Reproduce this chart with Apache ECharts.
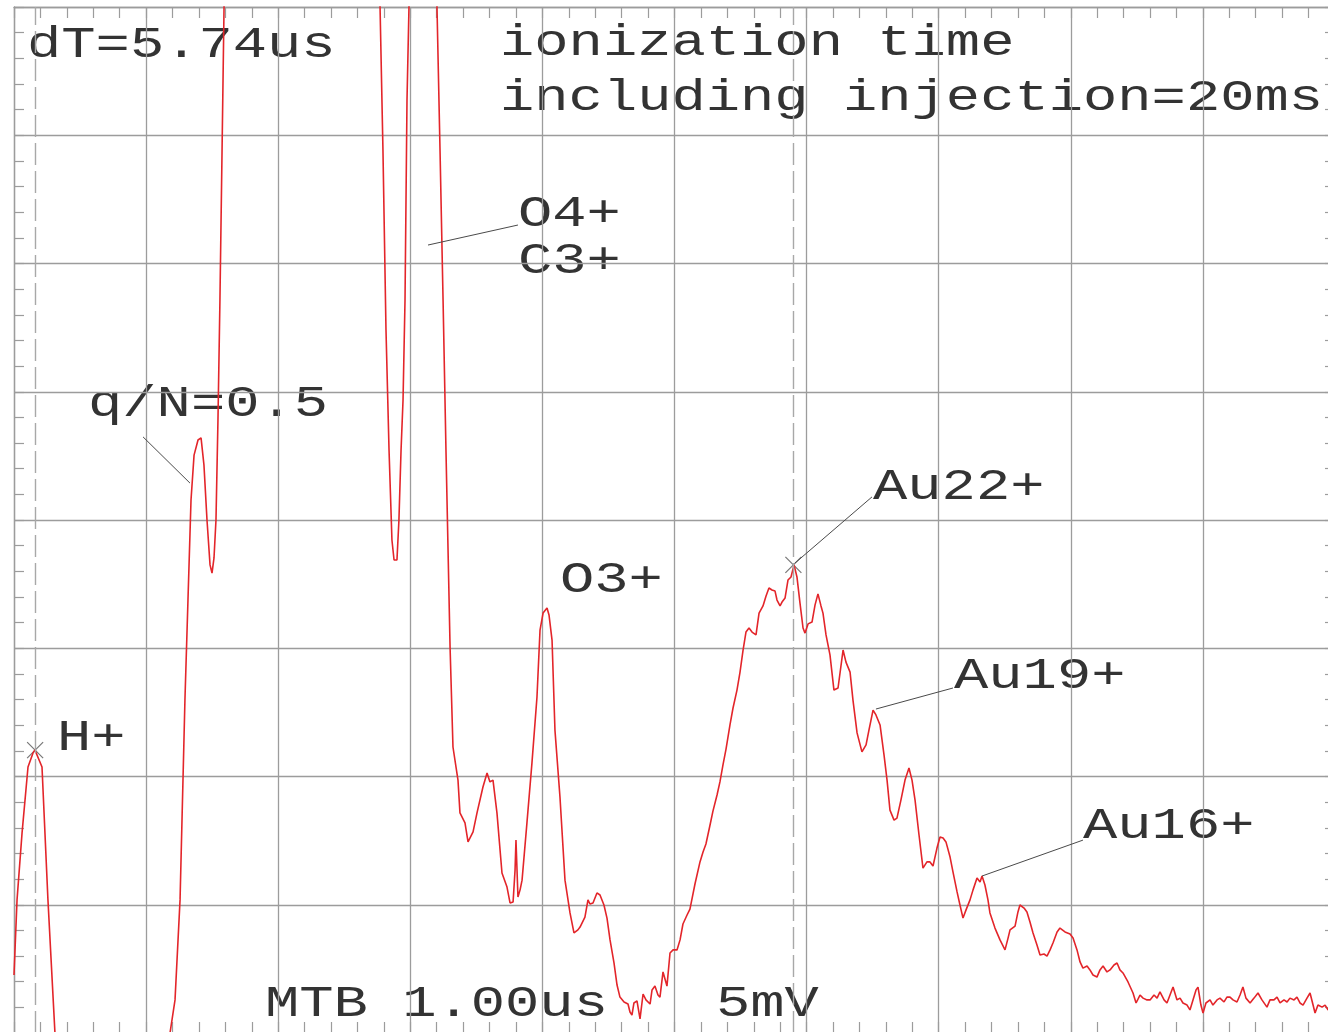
<!DOCTYPE html>
<html>
<head>
<meta charset="utf-8">
<title>Ion time-of-flight trace</title>
<script src="https://cdn.jsdelivr.net/npm/echarts@6/dist/echarts.min.js"></script>
<style>
  html, body { margin: 0; padding: 0; background: #ffffff; }
  #chart { width: 1328px; height: 1032px; }
</style>
</head>
<body>
<div id="chart"></div>
<script>
// Oscilloscope trace: time in microseconds, signal in millivolts (5 mV/div, 1 us/div)
const timeUs = [
  0.000, 0.023, 0.061, 0.106, 0.144, 0.159, 0.174, 0.212, 0.257, 0.310,
  0.348, 0.700, 1.100, 1.143, 1.181, 1.219, 1.257, 1.294, 1.317, 1.340,
  1.363, 1.393, 1.416, 1.438, 1.461, 1.484, 1.499, 1.514, 1.529, 1.544,
  1.559, 1.575, 1.590, 1.612, 2.000, 2.700, 2.748, 2.771, 2.793, 2.816,
  2.839, 2.861, 2.877, 2.899, 2.914, 2.930, 2.945, 2.960, 2.975, 2.990,
  3.005, 3.100, 3.187, 3.202, 3.225, 3.248, 3.270, 3.301, 3.323, 3.361,
  3.376, 3.414, 3.437, 3.475, 3.505, 3.550, 3.581, 3.603, 3.626, 3.656,
  3.694, 3.732, 3.755, 3.778, 3.793, 3.800, 3.815, 3.831, 3.846, 3.883,
  3.921, 3.959, 3.982, 4.005, 4.035, 4.050, 4.073, 4.095, 4.133, 4.171,
  4.209, 4.239, 4.269, 4.285, 4.322, 4.345, 4.360, 4.383, 4.413, 4.436,
  4.466, 4.489, 4.512, 4.542, 4.565, 4.587, 4.618, 4.648, 4.663, 4.678,
  4.693, 4.716, 4.739, 4.762, 4.784, 4.815, 4.830, 4.852, 4.875, 4.890,
  4.913, 4.943, 4.966, 4.989, 5.019, 5.042, 5.064, 5.095, 5.117, 5.155,
  5.193, 5.216, 5.238, 5.269, 5.291, 5.322, 5.344, 5.367, 5.390, 5.420,
  5.443, 5.473, 5.496, 5.519, 5.541, 5.564, 5.587, 5.617, 5.640, 5.670,
  5.693, 5.715, 5.738, 5.761, 5.776, 5.799, 5.814, 5.837, 5.859, 5.882,
  5.905, 5.927, 5.950, 5.973, 5.988, 6.011, 6.041, 6.064, 6.086, 6.109,
  6.124, 6.147, 6.177, 6.207, 6.238, 6.276, 6.298, 6.329, 6.351, 6.382,
  6.419, 6.450, 6.472, 6.503, 6.525, 6.556, 6.586, 6.609, 6.631, 6.662,
  6.684, 6.714, 6.745, 6.775, 6.798, 6.821, 6.851, 6.881, 6.911, 6.934,
  6.957, 6.987, 7.010, 7.033, 7.055, 7.086, 7.108, 7.139, 7.161, 7.184,
  7.207, 7.237, 7.260, 7.290, 7.313, 7.328, 7.350, 7.373, 7.388, 7.426,
  7.464, 7.502, 7.525, 7.540, 7.578, 7.600, 7.615, 7.646, 7.668, 7.691,
  7.714, 7.744, 7.767, 7.797, 7.820, 7.843, 7.865, 7.896, 7.918, 7.956,
  7.994, 8.017, 8.047, 8.070, 8.092, 8.123, 8.145, 8.168, 8.198, 8.221,
  8.244, 8.274, 8.297, 8.327, 8.350, 8.372, 8.395, 8.433, 8.471, 8.494,
  8.524, 8.547, 8.577, 8.600, 8.630, 8.653, 8.675, 8.706, 8.728, 8.751,
  8.774, 8.804, 8.827, 8.849, 8.880, 8.902, 8.925, 8.948, 8.963, 8.985,
  9.001, 9.023, 9.054, 9.076, 9.107, 9.129, 9.160, 9.182, 9.205, 9.228,
  9.258, 9.281, 9.303, 9.326, 9.357, 9.387, 9.417, 9.447, 9.485, 9.508,
  9.538, 9.561, 9.584, 9.614, 9.637, 9.659, 9.690, 9.712, 9.735, 9.758,
  9.788, 9.811, 9.834, 9.849, 9.871, 9.902, 9.925, 9.947, 10.000
];

const signalMv = [
  -17.74, -14.81, -12.20, -9.63, -9.08, -8.97, -9.01, -9.63, -14.81, -20.00,
  -24.56, -30.00, -30.00, -24.56, -20.00, -18.71, -14.81, -7.02, -3.12, 0.78,
  2.53, 3.12, 3.20, 2.14, 0.00, -1.75, -2.07, -1.48, 0.00, 3.90,
  8.58, 14.42, 20.00, 26.12, 30.00, 30.00, 26.12, 20.00, 14.42, 7.41,
  2.73, -0.78, -1.56, -1.56, 0.00, 2.73, 4.68, 8.58, 16.37, 20.00,
  24.95, 30.00, 24.95, 20.00, 14.42, 8.58, 2.73, -4.95, -8.85, -10.14,
  -11.42, -11.81, -12.55, -12.16, -11.42, -10.41, -9.86, -10.21, -10.14, -11.42,
  -13.76, -14.31, -14.93, -14.89, -13.65, -12.48, -14.70, -14.42, -14.04, -11.81,
  -9.47, -6.90, -4.29, -3.63, -3.43, -3.70, -4.68, -8.19, -10.80, -14.04,
  -15.32, -16.10, -15.98, -15.87, -15.48, -14.81, -14.97, -14.93, -14.54, -14.62,
  -15.01, -15.52, -16.37, -17.27, -18.13, -18.60, -18.79, -18.87, -19.18, -19.30,
  -18.83, -18.75, -19.45, -18.48, -18.71, -18.87, -18.32, -18.17, -18.52, -18.60,
  -17.62, -18.17, -16.88, -16.76, -16.76, -16.37, -15.75, -15.40, -15.17, -14.19,
  -13.33, -12.94, -12.63, -11.89, -11.35, -10.72, -10.21, -9.55, -8.93, -7.99,
  -7.33, -6.63, -5.93, -5.07, -4.37, -4.21, -4.37, -4.48, -3.63, -3.35,
  -2.96, -2.65, -2.73, -2.77, -3.12, -3.35, -3.20, -3.04, -2.34, -2.22,
  -1.75, -2.22, -3.24, -4.21, -4.41, -4.05, -3.98, -3.31, -2.88, -3.35,
  -3.63, -4.48, -5.26, -6.63, -6.55, -5.07, -5.54, -5.93, -7.02, -8.30,
  -9.04, -8.77, -8.19, -7.41, -7.60, -7.99, -9.16, -10.14, -11.31, -11.70,
  -11.62, -10.92, -10.14, -9.67, -10.14, -10.92, -12.28, -13.57, -13.33, -13.33,
  -13.49, -12.79, -12.36, -12.40, -12.55, -13.14, -13.72, -14.50, -15.01, -15.52,
  -15.20, -14.81, -14.42, -13.96, -14.11, -13.88, -14.23, -14.81, -15.32, -15.91,
  -16.37, -16.76, -16.30, -15.98, -15.83, -15.28, -15.01, -15.13, -15.28, -15.67,
  -16.10, -16.57, -16.96, -16.92, -17.00, -16.76, -16.49, -16.06, -15.91, -16.06,
  -16.14, -16.30, -16.76, -17.23, -17.47, -17.39, -17.54, -17.74, -17.82, -17.54,
  -17.39, -17.62, -17.54, -17.35, -17.27, -17.54, -17.66, -18.01, -18.44, -18.83,
  -18.52, -18.64, -18.71, -18.71, -18.52, -18.64, -18.40, -18.71, -18.83, -18.52,
  -18.21, -18.71, -18.64, -18.83, -18.91, -19.10, -18.71, -18.32, -18.21, -18.91,
  -19.22, -18.83, -18.71, -18.91, -18.71, -18.64, -18.79, -18.60, -18.60, -18.71,
  -18.79, -18.52, -18.21, -18.64, -18.83, -18.64, -18.44, -18.71, -18.99, -18.71,
  -18.71, -18.60, -18.83, -18.71, -18.79, -18.64, -18.71, -18.60, -18.83, -18.91,
  -18.64, -18.44, -18.91, -19.22, -18.91, -18.99, -18.91, -19.10, -18.91
];

// Two time cursors (dT = 5.74 us)
const cursorTimesUs = [0.16, 5.90];

// Leader lines from peak labels to the trace: [time, mV] pairs
const leaderQN   = [[0.977, 3.24], [1.332, 1.44]];
const leaderO4C3 = [[3.134, 10.72], [3.815, 11.50]];
const leaderAu22 = [[5.912, -1.68], [6.495, 0.90]];
const leaderAu19 = [[6.525, -7.37], [7.108, -6.55]];
const leaderAu16 = [[7.328, -13.88], [8.092, -12.48]];

// Screen annotations
const readoutText = 'dT=5.74us';
const settingText1 = 'ionization time';
const settingText2 = 'including injection=20ms';
const timebaseText = 'MTB 1.00us';
const scaleText = '5mV';
const peakNames = ['H+', 'q/N=0.5', 'O4+', 'C3+', 'O3+', 'Au22+', 'Au19+', 'Au16+'];

const traceData = timeUs.map((t, i) => [t, signalMv[i]]);

// cursor markers sit on the trace sample nearest to each cursor
const cursorMarks = cursorTimesUs.map(tc => {
  let best = 0;
  timeUs.forEach((t, i) => { if (Math.abs(t - tc) < Math.abs(timeUs[best] - tc)) best = i; });
  return [tc, signalMv[best]];
});

const GRID_COLOR = '#9c9c9c';
const TEXT_COLOR = '#333333';
const FONT_SIZE = 45;
const STRETCH = 1.27;

function screenText(str, left, baseline) {
  return {
    type: 'text',
    x: left,
    y: baseline - 12,
    scaleX: STRETCH,
    silent: true,
    style: {
      text: str,
      fill: TEXT_COLOR,
      font: FONT_SIZE + 'px "Liberation Mono", "Courier New", monospace',
      textAlign: 'left',
      textVerticalAlign: 'middle'
    }
  };
}

function xAxisCfg(position, withGrid) {
  return {
    type: 'value', position: position, min: 0, max: 10, interval: 1,
    axisLabel: { show: false },
    axisLine: { show: true, onZero: false, lineStyle: { color: GRID_COLOR, width: 1.3 } },
    axisTick: { show: true, inside: true, length: 11, lineStyle: { color: GRID_COLOR, width: 1.2 } },
    minorTick: { show: true, splitNumber: 5, length: 11, lineStyle: { color: GRID_COLOR, width: 1.2 } },
    splitLine: { show: withGrid, lineStyle: { color: GRID_COLOR, width: 1.3 } }
  };
}

function yAxisCfg(position, withGrid) {
  return {
    type: 'value', position: position, min: -20, max: 20, interval: 5,
    axisLabel: { show: false },
    axisLine: { show: true, onZero: false, lineStyle: { color: GRID_COLOR, width: 1.3 } },
    axisTick: { show: true, inside: true, length: 10, lineStyle: { color: GRID_COLOR, width: 1.2 } },
    minorTick: { show: true, splitNumber: 5, length: 10, lineStyle: { color: GRID_COLOR, width: 1.2 } },
    splitLine: { show: withGrid, lineStyle: { color: GRID_COLOR, width: 1.3 } }
  };
}

function leader(pair) {
  return [{ coord: pair[0] }, { coord: pair[1] }];
}

const chart = echarts.init(document.getElementById('chart'));

chart.setOption({
  animation: false,
  backgroundColor: '#ffffff',
  grid: {
    left: 14, top: 7, width: 1321, height: 1026,
    containLabel: false,
    outerBoundsMode: 'none'
  },
  xAxis: [xAxisCfg('bottom', true), xAxisCfg('top', false)],
  yAxis: [yAxisCfg('left', true), yAxisCfg('right', false)],
  series: [
    {
      type: 'line',
      name: 'signal',
      data: traceData,
      xAxisIndex: 0,
      yAxisIndex: 0,
      showSymbol: false,
      clip: true,
      silent: true,
      lineStyle: { color: '#e3252a', width: 1.6 },
      markLine: {
        silent: true,
        symbol: ['none', 'none'],
        label: { show: false },
        lineStyle: { color: '#4a4a4a', width: 1, type: 'solid' },
        data: [
          { xAxis: cursorTimesUs[0], lineStyle: { color: '#a8a8a8', width: 1.4, type: [22, 6] } },
          { xAxis: cursorTimesUs[1], lineStyle: { color: '#a8a8a8', width: 1.4, type: [22, 6] } },
          leader(leaderQN),
          leader(leaderO4C3),
          leader(leaderAu22),
          leader(leaderAu19),
          leader(leaderAu16)
        ]
      }
    },
    {
      type: 'scatter',
      name: 'cursor',
      data: cursorMarks,
      silent: true,
      symbol: 'path://M0,0L10,10M10,0L0,10',
      symbolSize: 16,
      itemStyle: { color: 'none', borderColor: '#555555', borderWidth: 1.2 }
    }
  ],
  graphic: [
    screenText(readoutText, 27, 57),
    screenText(settingText1, 500, 55),
    screenText(settingText2, 500, 110),
    screenText(peakNames[0], 57, 750),
    screenText(peakNames[1], 88, 416),
    screenText(peakNames[2], 518, 226),
    screenText(peakNames[3], 518, 273),
    screenText(peakNames[4], 560, 592),
    screenText(peakNames[5], 873, 499),
    screenText(peakNames[6], 954, 688),
    screenText(peakNames[7], 1083, 838),
    screenText(timebaseText, 265, 1016),
    screenText(scaleText, 716, 1016)
  ]
});
</script>
</body>
</html>
